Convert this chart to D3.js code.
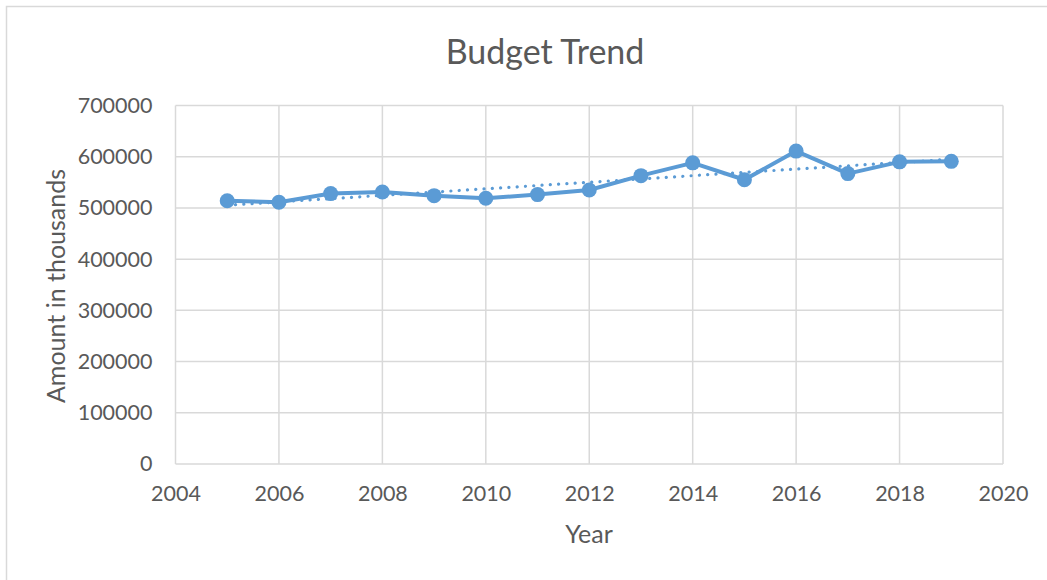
<!DOCTYPE html>
<html>
<head>
<meta charset="utf-8">
<script src="https://cdn.jsdelivr.net/npm/d3@7"></script>
<style>
  html, body { margin: 0; padding: 0; background: #fff; }
  svg { display: block; font-family: Lato, "Open Sans", sans-serif; }
</style>
</head>
<body>
<svg id="chart" width="1047" height="580"></svg>
<script>
// Budget by year (amount in thousands)
const years = [2005, 2006, 2007, 2008, 2009, 2010, 2011, 2012, 2013, 2014, 2015, 2016, 2017, 2018, 2019];
const amounts = [514000, 511000, 528000, 531000, 524000, 519000, 526000, 535000, 563000, 588000, 555000, 611000, 567000, 590000, 591000];
const xTicks = [2004, 2006, 2008, 2010, 2012, 2014, 2016, 2018, 2020];
const yTicks = [0, 100000, 200000, 300000, 400000, 500000, 600000, 700000];

const W = 1047, H = 580;
const plot = { left: 175.5, right: 1003, top: 105.5, bottom: 464 };
const blue = "#5b9bd5", grid = "#d9d9d9", text = "#595959";

const svg = d3.select("#chart");

// chart area frame
svg.append("rect")
  .attr("x", 6.5).attr("y", 6.5)
  .attr("width", W + 10).attr("height", H + 10)
  .attr("fill", "#fff").attr("stroke", grid).attr("stroke-width", 1.5);

const x = d3.scaleLinear().domain([2004, 2020]).range([plot.left, plot.right]);
const y = d3.scaleLinear().domain([0, 700000]).range([plot.bottom, plot.top]);

// gridlines
svg.append("g").selectAll("line.h").data(yTicks).join("line")
  .attr("x1", plot.left).attr("x2", plot.right)
  .attr("y1", d => y(d)).attr("y2", d => y(d))
  .attr("stroke", grid).attr("stroke-width", 1.5);
svg.append("g").selectAll("line.v").data(xTicks).join("line")
  .attr("y1", plot.top).attr("y2", plot.bottom)
  .attr("x1", d => x(d)).attr("x2", d => x(d))
  .attr("stroke", grid).attr("stroke-width", 1.5);

// axes (labels only; lines drawn as gridlines)
const yAxis = svg.append("g")
  .attr("transform", `translate(${plot.left},0)`)
  .call(d3.axisLeft(y).tickValues(yTicks).tickFormat(d3.format("d")).tickSize(0).tickPadding(23));
const xAxis = svg.append("g")
  .attr("transform", `translate(0,${plot.bottom})`)
  .call(d3.axisBottom(x).tickValues(xTicks).tickFormat(d3.format("d")).tickSize(0).tickPadding(22));
[yAxis, xAxis].forEach(g => {
  g.select(".domain").remove();
  g.selectAll("text").attr("fill", text).style("font-size", "21.5px").style("font-family", "Lato, 'Open Sans', sans-serif");
});

// linear trendline (least squares)
const mx = d3.mean(years), my = d3.mean(amounts);
const slope = d3.sum(years, (t, i) => (t - mx) * (amounts[i] - my)) / d3.sum(years, t => (t - mx) ** 2);
const fit = t => my + slope * (t - mx);
const trend = [years[0], years[years.length - 1]].map(t => [t, fit(t)]);

svg.append("path")
  .datum(trend)
  .attr("d", d3.line().x(d => x(d[0])).y(d => y(d[1])))
  .attr("fill", "none").attr("stroke", blue).attr("stroke-width", 3.2)
  .attr("stroke-linecap", "round").attr("stroke-dasharray", "0.1 8.2");

// series line
const pts = years.map((t, i) => [t, amounts[i]]);
svg.append("path")
  .datum(pts)
  .attr("d", d3.line().x(d => x(d[0])).y(d => y(d[1])))
  .attr("fill", "none").attr("stroke", blue).attr("stroke-width", 4)
  .attr("stroke-linejoin", "round");

svg.append("g").selectAll("circle").data(pts).join("circle")
  .attr("cx", d => x(d[0])).attr("cy", d => y(d[1]))
  .attr("r", 7.5).attr("fill", blue);

// titles
svg.append("text")
  .attr("x", 545).attr("y", 64)
  .attr("text-anchor", "middle").attr("fill", text)
  .style("font-size", "34px").text("Budget Trend");

svg.append("text")
  .attr("x", 589).attr("y", 543)
  .attr("text-anchor", "middle").attr("fill", text)
  .style("font-size", "25px").text("Year");

svg.append("text")
  .attr("transform", "translate(65,286) rotate(-90)")
  .attr("text-anchor", "middle").attr("fill", text)
  .style("font-size", "25px").text("Amount in thousands");
</script>
</body>
</html>
